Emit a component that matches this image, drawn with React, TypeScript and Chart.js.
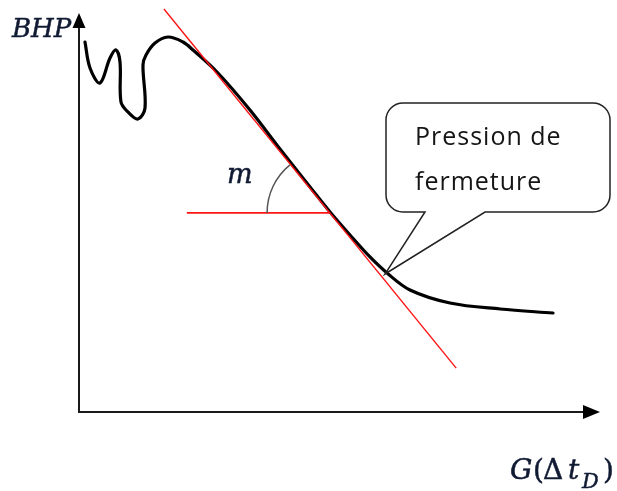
import React, { useEffect, useRef } from "react";
import { Chart, registerables } from "chart.js";

Chart.register(...registerables);

// Schematic data (abstract units: G from 0 to 100, BHP from 0 to 100)
const curveG = [1.15, 2.11, 4.03, 5.95, 7.10, 7.87, 8.06, 9.40, 11.32, 12.67, 12.28, 12.86, 14.59, 17.08, 19.96, 21.88, 26.49, 32.82, 38.58, 44.34, 48.18, 52.02, 55.85, 59.12, 63.53, 71.21, 80.81, 90.98];
const curveBHP = [92.73, 86.22, 82.46, 88.72, 90.73, 87.72, 77.69, 75.19, 73.43, 76.19, 86.97, 89.47, 92.48, 93.98, 92.73, 90.73, 85.21, 75.69, 65.91, 56.39, 50.13, 44.36, 38.85, 34.84, 30.58, 27.32, 25.81, 24.81];
const tangentG = [16.3, 72.4];
const tangentBHP = [101.0, 11.0];
const horizG = [20.7, 48.0];
const horizBHP = [49.9, 49.9];
const closureIndex = 23; // point of the curve designated by the callout
const yAxisLabel = "BHP";
const slopeLabel = "m";
const calloutLines = ["Pression de", "fermeture"];

const toXY = (xs: number[], ys: number[]) => xs.map((x, i) => ({ x, y: ys[i] }));

const diagramPlugin = {
  id: "diagram",
  beforeDatasetsDraw(chart: any) {
    const ctx = chart.ctx as CanvasRenderingContext2D;
    const xs = chart.scales.x;
    const ys = chart.scales.y;
    const x0 = xs.getPixelForValue(0);
    const y0 = ys.getPixelForValue(0);
    const xEnd = xs.getPixelForValue(100);
    const yTop = ys.getPixelForValue(100);
    ctx.save();
    ctx.strokeStyle = "#1a1a1a";
    ctx.fillStyle = "#000";
    ctx.lineWidth = 2;
    ctx.beginPath();
    ctx.moveTo(x0, y0 + 1);
    ctx.lineTo(x0, yTop + 12);
    ctx.moveTo(x0 - 1, y0);
    ctx.lineTo(xEnd - 14, y0);
    ctx.stroke();
    ctx.beginPath();
    ctx.moveTo(x0, yTop);
    ctx.lineTo(x0 - 6.5, yTop + 15);
    ctx.lineTo(x0 + 6.5, yTop + 15);
    ctx.closePath();
    ctx.fill();
    ctx.beginPath();
    ctx.moveTo(xEnd, y0);
    ctx.lineTo(xEnd - 17, y0 - 7);
    ctx.lineTo(xEnd - 17, y0 + 7);
    ctx.closePath();
    ctx.fill();
    ctx.restore();
  },
  afterDatasetsDraw(chart: any) {
    const ctx = chart.ctx as CanvasRenderingContext2D;
    const xs = chart.scales.x;
    const ys = chart.scales.y;
    ctx.save();

    // angle arc
    const cx = xs.getPixelForValue(horizG[1]);
    const cy = ys.getPixelForValue(horizBHP[1]);
    const p0x = xs.getPixelForValue(tangentG[0]);
    const p0y = ys.getPixelForValue(tangentBHP[0]);
    const p1x = xs.getPixelForValue(tangentG[1]);
    const p1y = ys.getPixelForValue(tangentBHP[1]);
    const a = Math.atan2(p0y - p1y, p0x - p1x) + Math.PI * 2;
    ctx.strokeStyle = "#555";
    ctx.lineWidth = 1.5;
    ctx.beginPath();
    ctx.arc(cx, cy, 62, Math.PI, a, false);
    ctx.stroke();

    // callout
    const tx = xs.getPixelForValue(curveG[closureIndex]) - 2;
    const ty = ys.getPixelForValue(curveBHP[closureIndex]) + 1;
    const bx = 386, by = 103, bw = 224, bh = 109, r = 17;
    const gapL = 425, gapR = 485;
    ctx.strokeStyle = "#222";
    ctx.lineWidth = 1.5;
    ctx.fillStyle = "#fff";
    ctx.beginPath();
    ctx.moveTo(bx + r, by);
    ctx.lineTo(bx + bw - r, by);
    ctx.arcTo(bx + bw, by, bx + bw, by + r, r);
    ctx.lineTo(bx + bw, by + bh - r);
    ctx.arcTo(bx + bw, by + bh, bx + bw - r, by + bh, r);
    ctx.lineTo(gapR, by + bh);
    ctx.lineTo(tx, ty);
    ctx.lineTo(gapL, by + bh);
    ctx.lineTo(bx + r, by + bh);
    ctx.arcTo(bx, by + bh, bx, by + bh - r, r);
    ctx.lineTo(bx, by + r);
    ctx.arcTo(bx, by, bx + r, by, r);
    ctx.closePath();
    ctx.fill();
    ctx.stroke();

    ctx.fillStyle = "#151515";
    ctx.textBaseline = "alphabetic";
    ctx.font = '25px "Open Sans"';
    (ctx as any).letterSpacing = "1px";
    ctx.fillText(calloutLines[0], 415, 145);
    ctx.fillText(calloutLines[1], 415, 190);
    (ctx as any).letterSpacing = "0px";

    // math labels (slightly emboldened)
    ctx.fillStyle = "#101a33";
    ctx.strokeStyle = "#101a33";
    ctx.lineWidth = 0.5;
    const glyph = (t: string, font: string, x: number, y: number) => {
      ctx.font = font;
      ctx.fillText(t, x, y);
      ctx.strokeText(t, x, y);
    };
    glyph(yAxisLabel, 'italic 26px "DejaVu Serif"', 12, 37);
    glyph(slopeLabel, 'italic 27px "DejaVu Serif"', 227, 183);

    // G(Δt_D)
    const base = 479;
    glyph("G", 'italic 28px "DejaVu Serif"', 510, base);
    glyph("(", '28px "DejaVu Serif"', 533, base);
    glyph("Δ", '28px "DejaVu Serif"', 543, base);
    glyph("t", 'italic 28px "DejaVu Serif"', 568, base);
    glyph("D", 'italic 21px "DejaVu Serif"', 582, base + 9);
    glyph(")", '28px "DejaVu Serif"', 603, base);

    ctx.restore();
  },
};

export default function App() {
  const ref = useRef<HTMLCanvasElement>(null);
  useEffect(() => {
    const canvas = ref.current!;
    const chart = new Chart(canvas, {
      type: "line",
      data: {
        datasets: [
          {
            data: toXY(tangentG, tangentBHP),
            borderColor: "rgb(255,20,20)",
            borderWidth: 1.4,
            pointRadius: 0,
            tension: 0,
            clip: false,
          } as any,
          {
            data: toXY(horizG, horizBHP),
            borderColor: "rgb(255,20,20)",
            borderWidth: 1.6,
            pointRadius: 0,
            tension: 0,
            clip: false,
          } as any,
          {
            data: toXY(curveG, curveBHP),
            borderColor: "#000",
            borderWidth: 3.2,
            pointRadius: 0,
            tension: 0.35,
            borderCapStyle: "round",
            borderJoinStyle: "round",
            clip: false,
          } as any,
        ],
      },
      options: {
        responsive: false,
        animation: false,
        events: [],
        layout: { padding: { left: 79, right: 17, top: 13, bottom: 79 } },
        scales: {
          x: { type: "linear", min: 0, max: 100, display: false },
          y: { type: "linear", min: 0, max: 100, display: false },
        },
        plugins: { legend: { display: false }, tooltip: { enabled: false } },
      },
      plugins: [diagramPlugin],
    });
    return () => chart.destroy();
  }, []);
  return (
    <div style={{ position: "fixed", left: 0, top: 0, width: 617, height: 491, background: "#fff" }}>
      <canvas ref={ref} width={617} height={491} style={{ width: 617, height: 491, display: "block" }} />
    </div>
  );
}
